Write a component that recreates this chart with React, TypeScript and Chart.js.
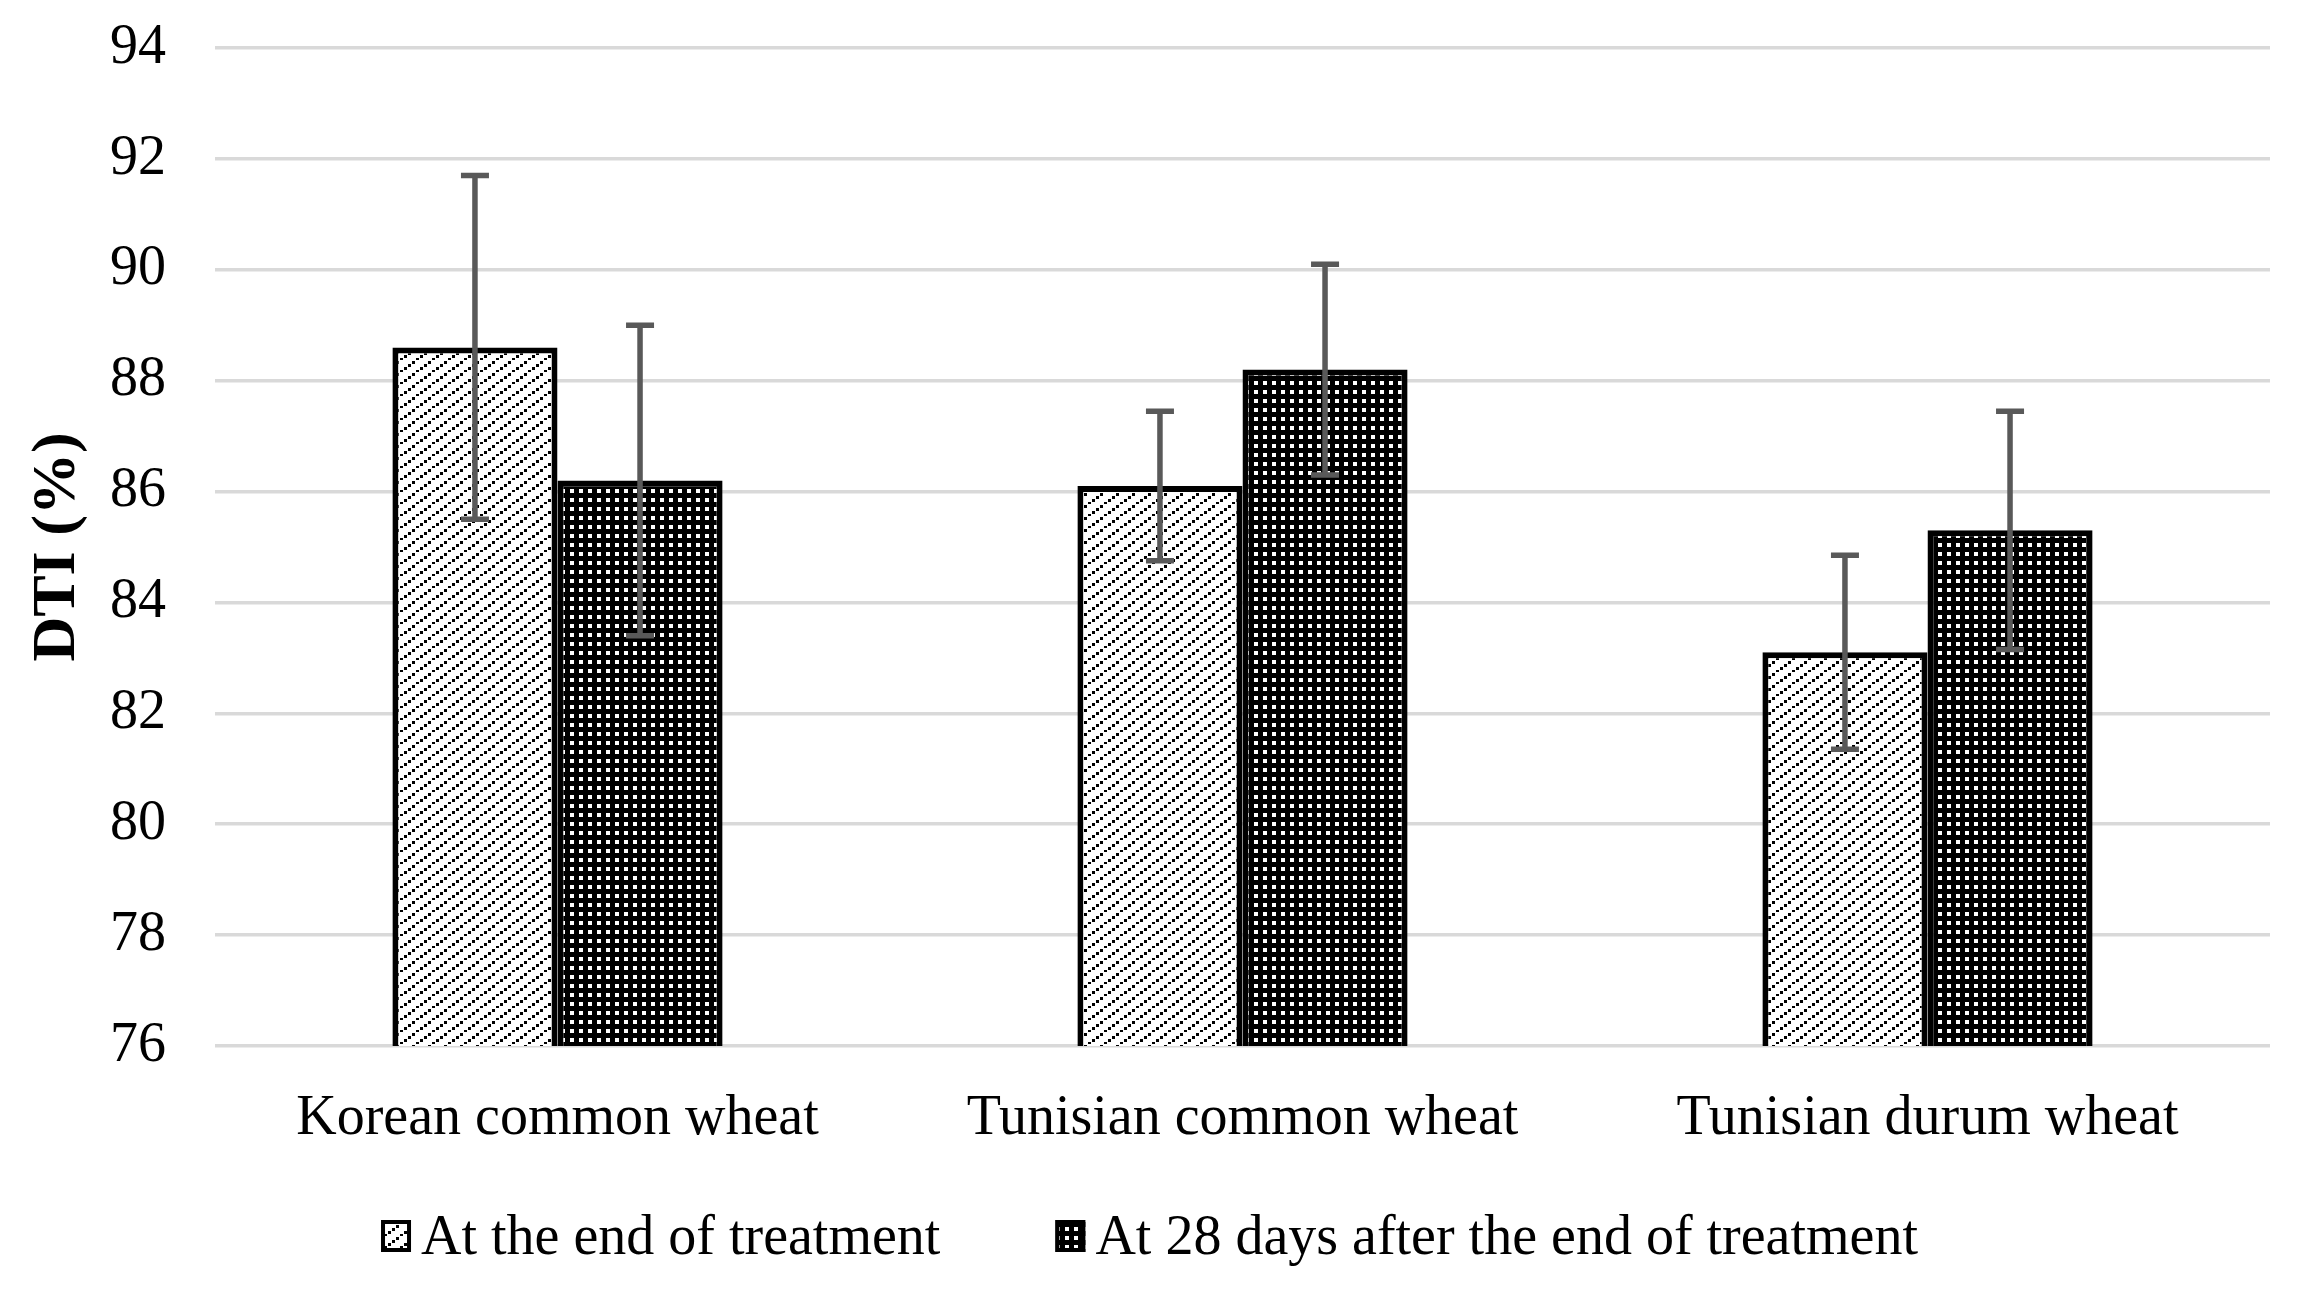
import { useEffect, useRef } from "react";
import { Chart, registerables } from "chart.js";

Chart.register(...registerables);

// Wheat groups on the x axis
const categories = ["Korean common wheat", "Tunisian common wheat", "Tunisian durum wheat"];

// Series labels
const seriesNames = ["At the end of treatment", "At 28 days after the end of treatment"];

// Mean DTI (%) per group
const endOfTreatment = [88.6, 86.1, 83.1];
const after28Days = [86.2, 88.2, 85.3];

// Standard deviation per group
const endOfTreatmentErr = [3.1, 1.35, 1.75];
const after28DaysErr = [2.8, 1.9, 2.15];

// Y axis range
const yMin = 76;
const yMax = 94;
const yStep = 2;

const FONT = '"Liberation Serif", "Times New Roman", serif';

// White fill with dotted diagonal lines
function makeHatch(): CanvasPattern {
  const c = document.createElement("canvas");
  c.width = 16;
  c.height = 12;
  const g = c.getContext("2d")!;
  g.fillStyle = "#ffffff";
  g.fillRect(0, 0, 16, 12);
  g.fillStyle = "#000000";
  const dots = [
    [0, 10],
    [4, 7],
    [8, 4],
    [12, 1],
  ];
  for (const [x, y] of dots) g.fillRect(x, y, 3, 3);
  return g.createPattern(c, "repeat")!;
}

// Black fill with a grid of white dots
function makeDots(): CanvasPattern {
  const c = document.createElement("canvas");
  c.width = 9;
  c.height = 9;
  const g = c.getContext("2d")!;
  g.fillStyle = "#000000";
  g.fillRect(0, 0, 9, 9);
  g.fillStyle = "#ffffff";
  g.fillRect(3, 3, 4, 4);
  return g.createPattern(c, "repeat")!;
}

const errorSets = [endOfTreatmentErr, after28DaysErr];

const errorBarPlugin = {
  id: "errorBars",
  afterDatasetsDraw(chart: any) {
    const ctx: CanvasRenderingContext2D = chart.ctx;
    const yScale = chart.scales.y;
    chart.data.datasets.forEach((ds: any, i: number) => {
      const meta = chart.getDatasetMeta(i);
      const errs = errorSets[i];
      meta.data.forEach((bar: any, j: number) => {
        const v = ds.data[j] as number;
        const e = errs[j];
        const x = bar.x;
        const top = yScale.getPixelForValue(v + e);
        const bot = yScale.getPixelForValue(v - e);
        const cap = 14;
        ctx.save();
        ctx.strokeStyle = "#595959";
        ctx.lineWidth = 5.5;
        ctx.beginPath();
        ctx.moveTo(x, top);
        ctx.lineTo(x, bot);
        ctx.moveTo(x - cap, top);
        ctx.lineTo(x + cap, top);
        ctx.moveTo(x - cap, bot);
        ctx.lineTo(x + cap, bot);
        ctx.stroke();
        ctx.restore();
      });
    });
  },
};

const legendPlugin = {
  id: "patternLegend",
  afterDraw(chart: any) {
    const ctx: CanvasRenderingContext2D = chart.ctx;
    const w = chart.width;
    const h = chart.height;
    const boxW = 30;
    const boxH = 32;
    const gap = 10;
    const spacing = 115;
    ctx.save();
    ctx.font = `56px ${FONT}`;
    const widths = seriesNames.map((t) => ctx.measureText(t).width);
    const total = widths.reduce((a, b) => a + b, 0) + 2 * (boxW + gap) + spacing;
    let x = w / 2 - 4 - total / 2;
    const baseline = h - 50;
    const boxTop = h - 84;
    chart.data.datasets.forEach((ds: any, i: number) => {
      ctx.fillStyle = ds.backgroundColor;
      ctx.fillRect(x, boxTop, boxW, boxH);
      ctx.strokeStyle = "#000000";
      ctx.lineWidth = 4;
      ctx.strokeRect(x + 2, boxTop + 2, boxW - 4, boxH - 4);
      ctx.fillStyle = "#000000";
      ctx.textAlign = "left";
      ctx.textBaseline = "alphabetic";
      ctx.fillText(seriesNames[i], x + boxW + gap, baseline);
      x += boxW + gap + widths[i] + spacing;
    });
    ctx.restore();
  },
};

export default function App() {
  const ref = useRef<HTMLCanvasElement>(null);

  useEffect(() => {
    document.body.style.margin = "0";
    const canvas = ref.current;
    if (!canvas) return;
    const chart = new Chart(canvas, {
      type: "bar",
      data: {
        labels: categories,
        datasets: [
          {
            label: seriesNames[0],
            data: endOfTreatment,
            backgroundColor: makeHatch(),
            borderColor: "#000000",
            borderWidth: 6,
            borderSkipped: false,
          },
          {
            label: seriesNames[1],
            data: after28Days,
            backgroundColor: makeDots(),
            borderColor: "#000000",
            borderWidth: 6,
            borderSkipped: false,
          },
        ],
      },
      options: {
        responsive: false,
        animation: false,
        devicePixelRatio: 1,
        layout: { padding: { left: 0, right: 37, top: 48, bottom: 150 } },
        datasets: { bar: { categoryPercentage: 0.482, barPercentage: 1.0 } },
        plugins: {
          legend: { display: false },
          tooltip: { enabled: false },
        },
        scales: {
          x: {
            grid: { display: false, drawTicks: false },
            border: { display: false },
            ticks: {
              color: "#000000",
              font: { family: FONT, size: 56 },
              padding: 40,
              maxRotation: 0,
            },
            afterFit(scale: any) {
              scale.height = 108;
            },
          },
          y: {
            min: yMin,
            max: yMax,
            ticks: {
              stepSize: yStep,
              color: "#000000",
              font: { family: FONT, size: 56 },
              padding: 49,
            },
            grid: { color: "#d9d9d9", lineWidth: 3.5, drawTicks: false },
            border: { display: false },
            title: {
              display: true,
              text: "DTI (%)",
              color: "#000000",
              font: { family: FONT, size: 62, weight: "bold" },
              padding: { top: 21, bottom: 0 },
            },
            afterFit(scale: any) {
              scale.width = 215;
              scale.paddingTop = 0;
              scale.paddingBottom = 0;
            },
          },
        },
      },
      plugins: [errorBarPlugin, legendPlugin],
    });
    return () => chart.destroy();
  }, []);

  return (
    <div style={{ position: "absolute", left: 0, top: 0, width: 2307, height: 1304, background: "#ffffff" }}>
      <canvas ref={ref} width={2307} height={1304} />
    </div>
  );
}
